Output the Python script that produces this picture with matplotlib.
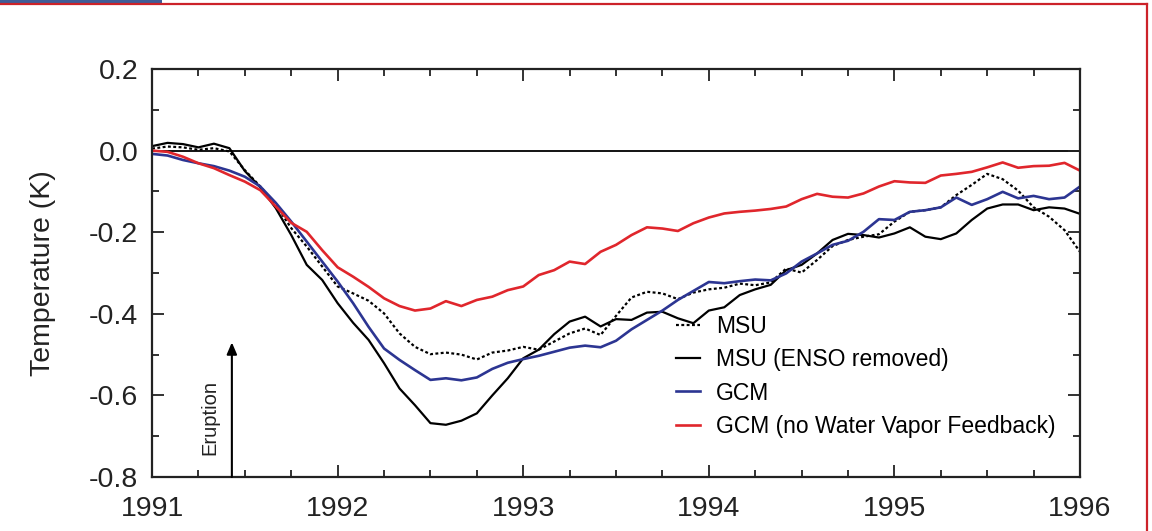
import matplotlib
matplotlib.use('Agg')
import matplotlib.pyplot as plt
import numpy as np
from matplotlib.lines import Line2D
from matplotlib.patches import Rectangle
from matplotlib.ticker import MultipleLocator

plt.rcParams['font.family'] = ['Liberation Sans', 'DejaVu Sans']

# monthly values, Jan 1991 .. Jan 1996
months = np.arange(61)
years = 1991 + months / 12.0

msu = [0.005, 0.010, 0.008, 0.002, 0.006, -0.002, -0.048, -0.088, -0.133, -0.190,
       -0.235, -0.284, -0.333, -0.350, -0.368, -0.399, -0.448, -0.481, -0.499, -0.495,
       -0.500, -0.512, -0.495, -0.490, -0.481, -0.488, -0.468, -0.448, -0.436, -0.452,
       -0.405, -0.360, -0.346, -0.350, -0.364, -0.348, -0.340, -0.336, -0.326, -0.330,
       -0.323, -0.289, -0.299, -0.268, -0.234, -0.219, -0.211, -0.205, -0.174, -0.150,
       -0.146, -0.139, -0.109, -0.084, -0.057, -0.070, -0.098, -0.139, -0.162, -0.195,
       -0.248]

msu_enso = [0.011, 0.019, 0.016, 0.008, 0.017, 0.006, -0.050, -0.090, -0.141, -0.207,
            -0.280, -0.317, -0.374, -0.422, -0.464, -0.521, -0.583, -0.624, -0.668, -0.672,
            -0.662, -0.644, -0.600, -0.558, -0.509, -0.488, -0.450, -0.419, -0.407, -0.431,
            -0.413, -0.415, -0.397, -0.395, -0.411, -0.423, -0.392, -0.384, -0.354, -0.340,
            -0.329, -0.293, -0.280, -0.252, -0.219, -0.204, -0.207, -0.213, -0.203, -0.188,
            -0.211, -0.217, -0.203, -0.170, -0.142, -0.132, -0.132, -0.146, -0.139, -0.142,
            -0.155]

gcm = [-0.008, -0.012, -0.023, -0.031, -0.038, -0.049, -0.064, -0.088, -0.128, -0.174,
       -0.223, -0.272, -0.321, -0.374, -0.432, -0.485, -0.513, -0.538, -0.562, -0.558,
       -0.563, -0.556, -0.535, -0.520, -0.511, -0.503, -0.493, -0.483, -0.478, -0.482,
       -0.466, -0.438, -0.415, -0.392, -0.366, -0.344, -0.322, -0.325, -0.320, -0.316,
       -0.318, -0.301, -0.272, -0.252, -0.231, -0.221, -0.199, -0.168, -0.170, -0.150,
       -0.146, -0.139, -0.115, -0.133, -0.119, -0.101, -0.117, -0.111, -0.119, -0.115,
       -0.088]

gcm_nowv = [0.000, -0.003, -0.015, -0.031, -0.043, -0.060, -0.076, -0.097, -0.137, -0.177,
            -0.199, -0.244, -0.286, -0.309, -0.334, -0.362, -0.381, -0.392, -0.387, -0.369,
            -0.381, -0.366, -0.358, -0.342, -0.333, -0.305, -0.293, -0.272, -0.278, -0.248,
            -0.231, -0.207, -0.188, -0.191, -0.197, -0.178, -0.164, -0.154, -0.150, -0.147,
            -0.143, -0.137, -0.119, -0.106, -0.113, -0.115, -0.105, -0.088, -0.075, -0.078,
            -0.079, -0.061, -0.057, -0.052, -0.041, -0.029, -0.042, -0.038, -0.037, -0.030,
            -0.049]

eruption = 1991.43

fig = plt.figure(figsize=(11.52, 5.31), dpi=100)
ax = fig.add_axes([0.132, 0.1017, 0.8055, 0.7683])

ax.axhline(0, color='black', lw=1.3, zorder=1)
ax.plot(years, msu, color='black', lw=1.6, ls=(0, (1.3, 1.1)), label='MSU')
ax.plot(years, msu_enso, color='black', lw=1.6, label='MSU (ENSO removed)')
ax.plot(years, gcm, color='#2c3592', lw=1.9, label='GCM')
ax.plot(years, gcm_nowv, color='#e0262c', lw=1.9, label='GCM (no Water Vapor Feedback)')

ax.annotate('', xy=(eruption, -0.47), xytext=(eruption, -0.8),
            arrowprops=dict(arrowstyle='-|>,head_width=0.3,head_length=0.7',
                            color='black', lw=1.5, shrinkA=0, shrinkB=0))
ax.text(1991.31, -0.655, 'Eruption', rotation=90, ha='center', va='center',
        fontsize=14.5, color='#222222')

ax.set_xlim(1991, 1996)
ax.set_ylim(-0.8, 0.2)
ax.xaxis.set_major_locator(MultipleLocator(1))
ax.xaxis.set_minor_locator(MultipleLocator(0.25))
ax.yaxis.set_major_locator(MultipleLocator(0.2))
ax.yaxis.set_minor_locator(MultipleLocator(0.1))
ax.set_xticks([1991, 1992, 1993, 1994, 1995, 1996])
ax.set_xticklabels(['1991', '1992', '1993', '1994', '1995', '1996'])
ax.set_yticks([0.2, 0.0, -0.2, -0.4, -0.6, -0.8])
ax.set_yticklabels(['0.2', '0.0', '-0.2', '-0.4', '-0.6', '-0.8'])
ax.tick_params(which='both', direction='in', top=True, right=True, width=1.3,
               colors='#222222', labelsize=20.5)
ax.tick_params(which='major', length=8.5)
ax.tick_params(which='minor', length=5)
ax.tick_params(axis='x', pad=14)
ax.tick_params(axis='y', pad=10)
for s in ax.spines.values():
    s.set_linewidth(1.6)
    s.set_color('#222222')

ax.set_ylabel('Temperature (K)', fontsize=20.5, color='#222222', labelpad=24)

ax.legend(loc='lower left', bbox_to_anchor=(0.5647, 0.096), frameon=False,
          fontsize=16.5, handlelength=1.05, handletextpad=0.7, borderpad=0,
          borderaxespad=0, labelspacing=0.45)

# page frame
fig.add_artist(Line2D([0, 1147 / 1152], [1 - 4 / 531, 1 - 4 / 531], color='#cc2229', lw=1.6))
fig.add_artist(Line2D([1147 / 1152, 1147 / 1152], [0, 1 - 4 / 531], color='#cc2229', lw=1.6))
fig.add_artist(Rectangle((0, 1 - 3 / 531), 162 / 1152, 3 / 531, transform=fig.transFigure,
                         color='#3f5d98', lw=0))

fig.savefig('out.png', dpi=100)
